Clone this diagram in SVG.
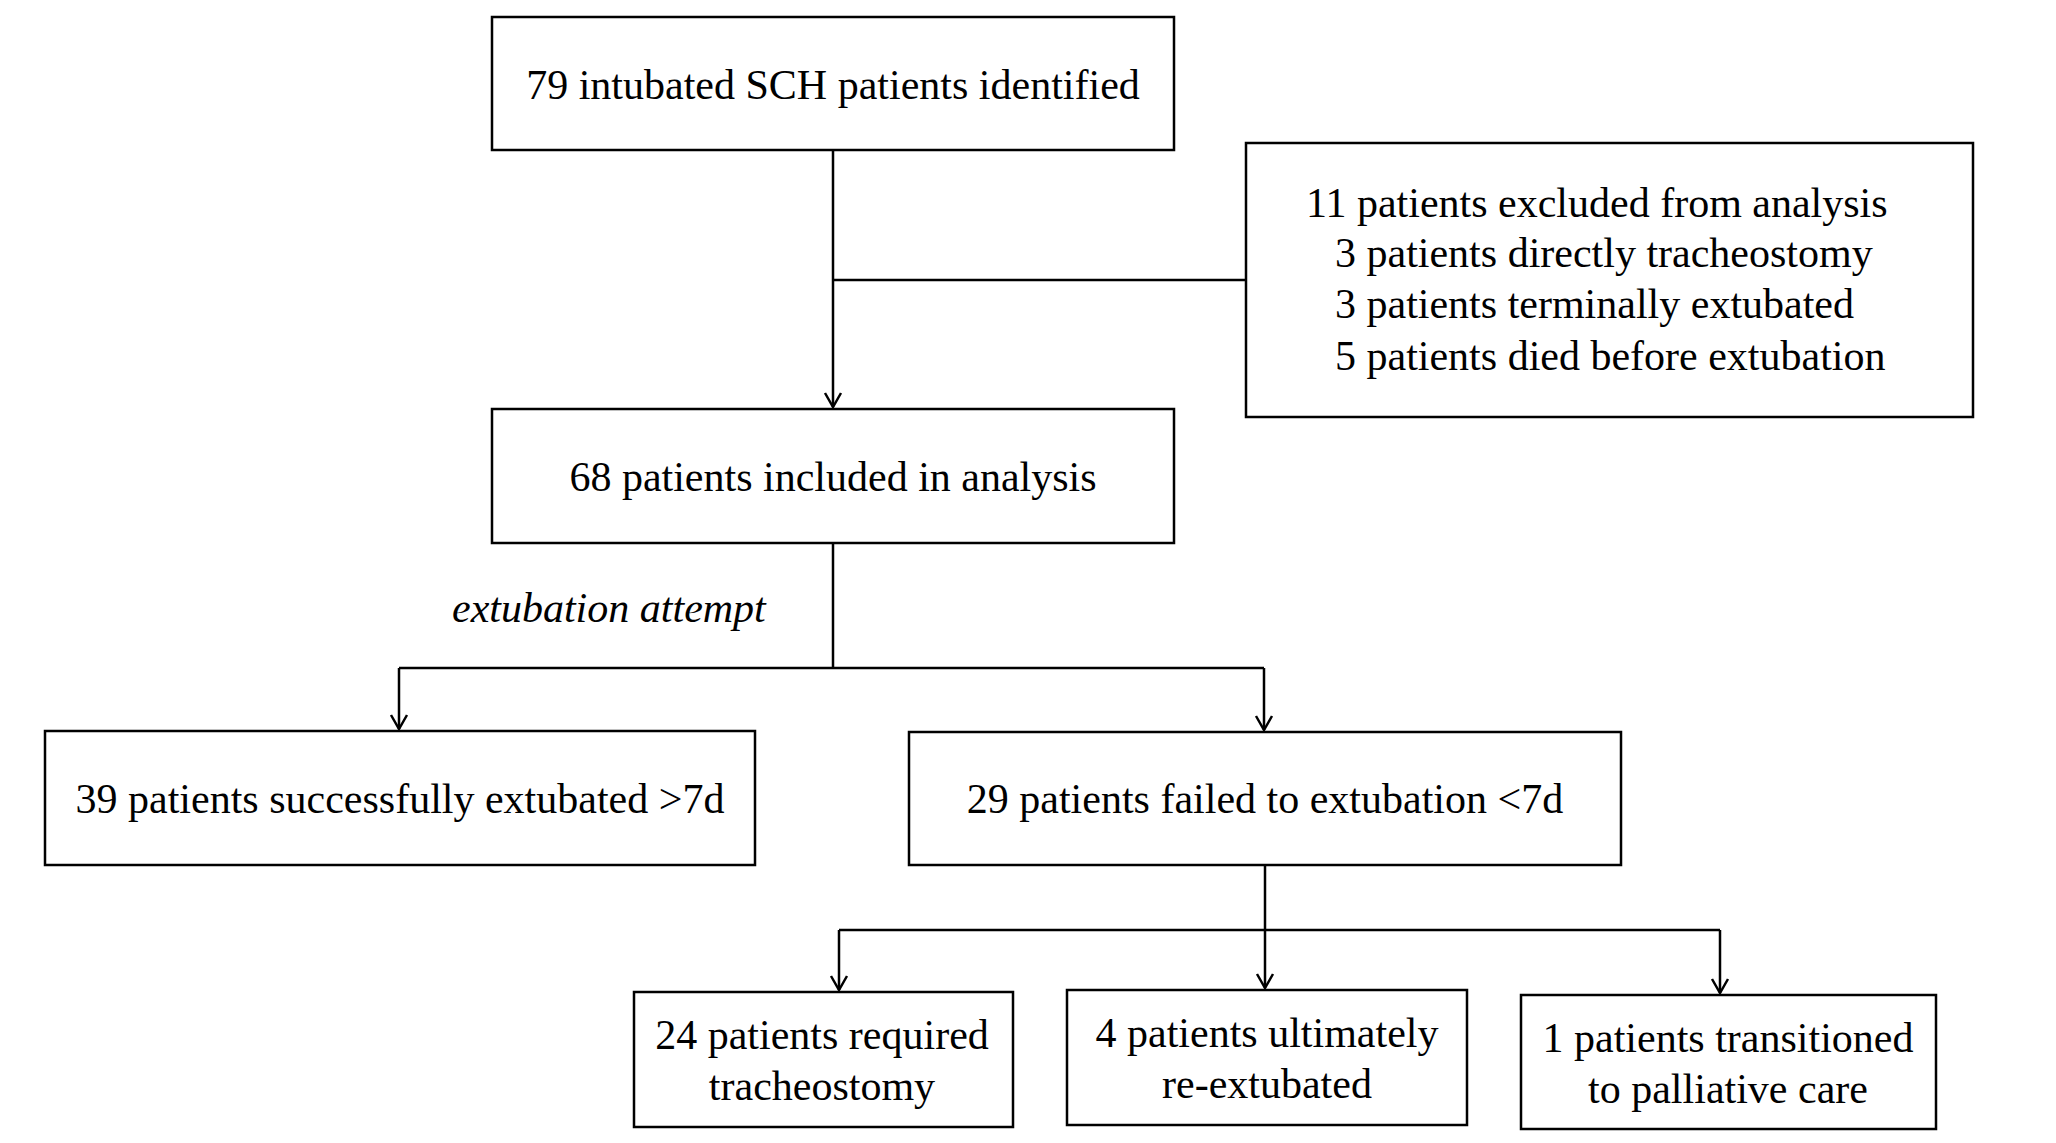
<svg xmlns="http://www.w3.org/2000/svg" width="2056" height="1143" viewBox="0 0 2056 1143">
<style>
rect{fill:#fff;stroke:#000;stroke-width:2.5}
text{font-family:"Liberation Serif",serif;font-size:42px;fill:#000}
.c{text-anchor:middle}
.l{fill:none;stroke:#000;stroke-width:2.5}
</style>
<defs><marker id="a" markerWidth="20" markerHeight="20" refX="18" refY="10" orient="auto" markerUnits="userSpaceOnUse" viewBox="0 0 20 20"><path d="M4,2 L18,10 L4,18" fill="none" stroke="#000" stroke-width="2.5"/></marker></defs>
<rect width="2056" height="1143" style="stroke:none"/>
<g id="connectors">
<path class="l" d="M833,150 V407" marker-end="url(#a)"/>
<path class="l" d="M833,280 H1246"/>
<path class="l" d="M833,543 V668"/>
<path class="l" d="M399,668 H1264"/>
<path class="l" d="M399,668 V729" marker-end="url(#a)"/>
<path class="l" d="M1264,668 V730" marker-end="url(#a)"/>
<path class="l" d="M1265,865 V988" marker-end="url(#a)"/>
<path class="l" d="M839,930 H1720"/>
<path class="l" d="M839,930 V990" marker-end="url(#a)"/>
<path class="l" d="M1720,930 V993" marker-end="url(#a)"/>
<text x="452" y="622" style="font-style:italic">extubation attempt</text>
</g>
<g id="n1"><rect x="492" y="17" width="682" height="133"/><text class="c" x="833" y="99">79 intubated SCH patients identified</text></g>
<g id="n2"><rect x="1246" y="143" width="727" height="274"/>
<text x="1306" y="217">11 patients excluded from analysis</text>
<text x="1335" y="267">3 patients directly tracheostomy</text>
<text x="1335" y="318">3 patients terminally extubated</text>
<text x="1335" y="370">5 patients died before extubation</text></g>
<g id="n3"><rect x="492" y="409" width="682" height="134"/><text class="c" x="833" y="491">68 patients included in analysis</text></g>
<g id="n4"><rect x="45" y="731" width="710" height="134"/><text class="c" x="400" y="813">39 patients successfully extubated &gt;7d</text></g>
<g id="n5"><rect x="909" y="732" width="712" height="133"/><text class="c" x="1265" y="813">29 patients failed to extubation &lt;7d</text></g>
<g id="n6"><rect x="634" y="992" width="379" height="135"/><text class="c" x="822" y="1049">24 patients required</text><text class="c" x="822" y="1100">tracheostomy</text></g>
<g id="n7"><rect x="1067" y="990" width="400" height="135"/><text class="c" x="1267" y="1047">4 patients ultimately</text><text class="c" x="1267" y="1098">re-extubated</text></g>
<g id="n8"><rect x="1521" y="995" width="415" height="134"/><text class="c" x="1728" y="1052">1 patients transitioned</text><text class="c" x="1728" y="1103">to palliative care</text></g>
</svg>
